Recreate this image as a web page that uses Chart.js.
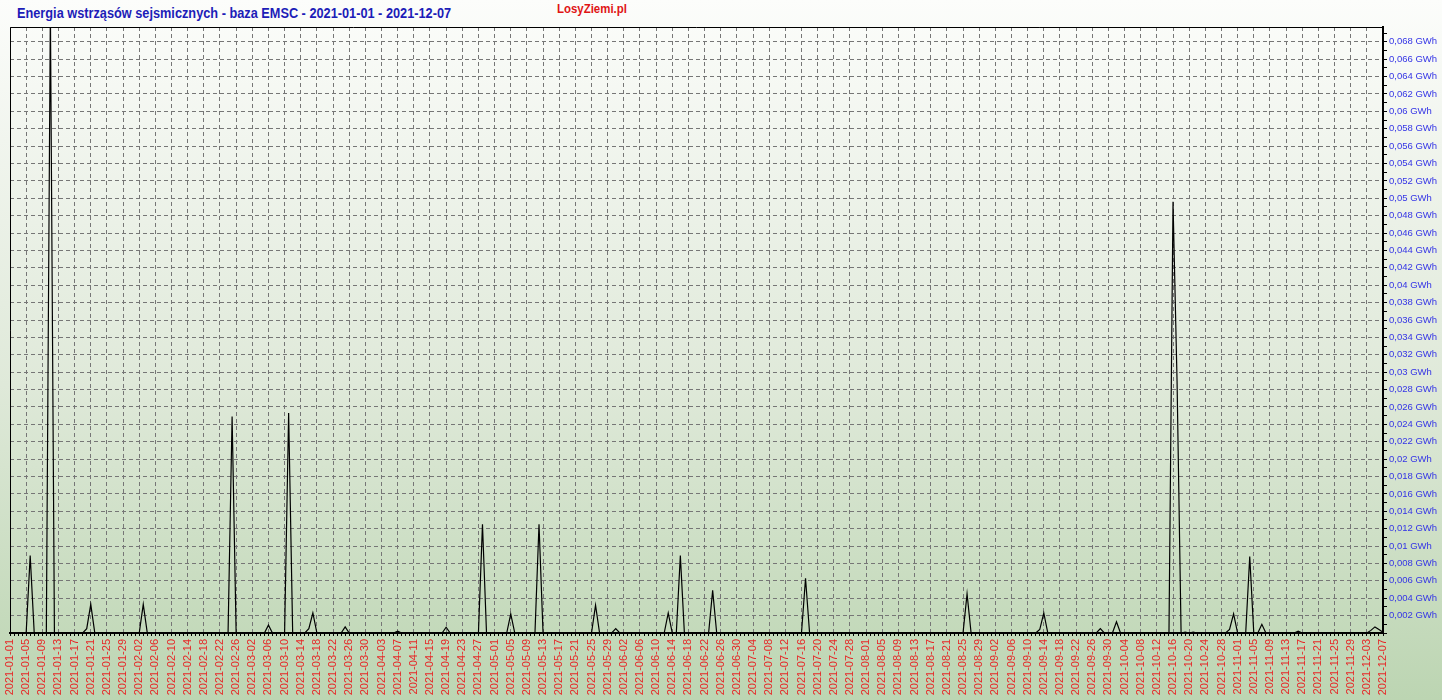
<!DOCTYPE html>
<html lang="pl">
<head>
<meta charset="UTF-8">
<title>Energia wstrząsów sejsmicznych - baza EMSC</title>
<script src="https://cdn.jsdelivr.net/npm/chart.js"></script>
<style>
    html, body { margin: 0; padding: 0; }
    body {
        width: 1442px; height: 700px; overflow: hidden; position: relative;
        background: linear-gradient(to bottom, #fcfdfb 0%, #f1f5ee 20%, #dfe9d9 55%, #bcd5b2 100%);
    }
    #title {
        position: absolute; left: 17px; top: 5px;
        font: bold 14px "Liberation Sans", Arial, sans-serif;
        color: #1d1db8; white-space: nowrap;
        transform: scaleX(0.91); transform-origin: left top;
    }
    #brand {
        position: absolute; left: 557px; top: 1px;
        font: bold 13px "Liberation Sans", Arial, sans-serif;
        color: #e01414; white-space: nowrap;
        transform: scaleX(0.88); transform-origin: left top;
    }
    canvas { position: absolute; left: 0; top: 0; }
</style>
</head>
<body>
<div id="title">Energia wstrząsów sejsmicznych - baza EMSC - 2021-01-01 - 2021-12-07</div>
<div id="brand">LosyZiemi.pl</div>
<canvas id="energyChart" width="1442" height="700"></canvas>

<script>
    // days with recorded energy (GWh); every other day is 0
    const eventDates = [
        '2021-01-06', '2021-01-11', '2021-01-20', '2021-01-21', '2021-02-03', '2021-02-25',
        '2021-03-06', '2021-03-11', '2021-03-16', '2021-03-17', '2021-03-25', '2021-04-07',
        '2021-04-19', '2021-04-28', '2021-05-05', '2021-05-12', '2021-05-26', '2021-05-31',
        '2021-06-13', '2021-06-16', '2021-06-24', '2021-07-17', '2021-08-26', '2021-09-13',
        '2021-09-14', '2021-09-28', '2021-10-02', '2021-10-16', '2021-10-17', '2021-10-19',
        '2021-10-21', '2021-10-30', '2021-10-31', '2021-11-04', '2021-11-07', '2021-11-16',
        '2021-12-04', '2021-12-05', '2021-12-06', '2021-12-07'
    ];
    const eventEnergy = [
        0.0089, 0.072, 0.0005, 0.0033, 0.0033, 0.0249,
        0.0009, 0.0253, 0.0005, 0.0023, 0.0007, 0.0002,
        0.00066, 0.0125, 0.0022, 0.0125, 0.0032, 0.0005,
        0.0023, 0.0089, 0.0049, 0.0063, 0.0045, 0.0004,
        0.0023, 0.0005, 0.0013, 0.0496, 0.029, 0.0001,
        0.0001, 0.0004, 0.0022, 0.0088, 0.001, 0.0002,
        0.0003, 0.0007, 0.0004, 0.0001
    ];

    const startDay = '2021-01-01';
    const endDay = '2021-12-07';
    const labelEvery = 4;      // x tick label every 4 days
    const yMax = 0.0697;
    const yStep = 0.001;       // minor ticks, labels on every second one

    const categories = [];
    for (let t = Date.parse(startDay); t <= Date.parse(endDay); t += 86400000) {
        categories.push(new Date(t).toISOString().slice(0, 10));
    }
    const energy = categories.map(d => {
        const i = eventDates.indexOf(d);
        return i < 0 ? 0 : eventEnergy[i];
    });

    const gridColor = '#767676';
    const clear = 'rgba(0,0,0,0)';

    function gwh(v) {
        return (Math.round(v * 1000) / 1000).toString().replace('.', ',') + ' GWh';
    }

    // thin black frame on the left and top of the plot
    const frame = {
        id: 'frame',
        afterDraw(chart) {
            const { ctx, chartArea: a } = chart;
            ctx.save();
            ctx.strokeStyle = '#000';
            ctx.lineWidth = 1;
            ctx.beginPath();
            ctx.moveTo(a.left + 0.5, a.bottom);
            ctx.lineTo(a.left + 0.5, a.top + 0.5);
            ctx.lineTo(a.right, a.top + 0.5);
            ctx.stroke();
            ctx.restore();
        }
    };

    Chart.defaults.font.family = '"Liberation Sans", Arial, sans-serif';

    new Chart(document.getElementById('energyChart'), {
        type: 'line',
        data: {
            labels: categories,
            datasets: [{
                data: energy,
                borderColor: '#000',
                borderWidth: 1.2,
                pointRadius: 0,
                tension: 0,
                fill: false
            }]
        },
        options: {
            responsive: false,
            animation: false,
            layout: { padding: { top: 27, left: 10, right: 0, bottom: 0 } },
            plugins: { legend: { display: false }, tooltip: { enabled: false } },
            scales: {
                x: {
                    offset: false,
                    border: { display: true, color: '#000', width: 2, dash: [4, 3] },
                    grid: {
                        color: ctx => ctx.index % labelEvery === 0 ? gridColor : clear,
                        tickColor: '#000',
                        tickLength: 3,
                        tickWidth: 1
                    },
                    ticks: {
                        autoSkip: false,
                        minRotation: 90,
                        maxRotation: 90,
                        padding: 3,
                        color: '#e62828',
                        font: { size: 11 },
                        callback: (v, i) => i % labelEvery === 0 ? categories[i] : ''
                    },
                    afterFit: s => { s.height = 67; }
                },
                y: {
                    position: 'right',
                    min: 0,
                    max: yMax,
                    border: { display: true, color: '#000', width: 2, dash: [4, 3] },
                    grid: {
                        color: ctx => {
                            if (!ctx.tick) return gridColor;
                            const k = Math.round(ctx.tick.value * 1000);
                            return k % 2 === 0 && k > 0 ? gridColor : clear;
                        },
                        tickColor: '#000',
                        tickLength: 4,
                        tickWidth: 1
                    },
                    ticks: {
                        stepSize: yStep,
                        includeBounds: false,
                        autoSkip: false,
                        padding: 2,
                        color: '#3434e6',
                        font: { size: 9.5 },
                        callback: v => {
                            const k = Math.round(v * 1000);
                            return k > 0 && k % 2 === 0 ? gwh(v) : '';
                        }
                    },
                    afterFit: s => { s.width = 59; }
                }
            }
        },
        plugins: [frame]
    });
</script>
</body>
</html>
